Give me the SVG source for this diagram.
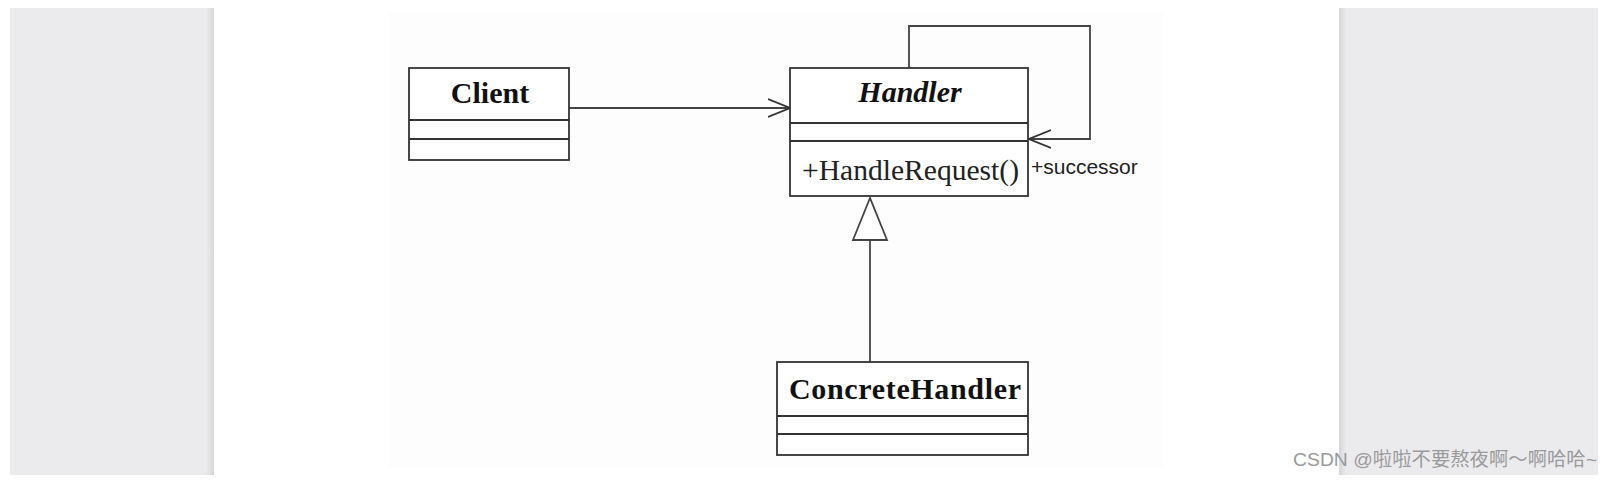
<svg xmlns="http://www.w3.org/2000/svg" width="1611" height="480" viewBox="0 0 1611 480">
  <defs>
    <linearGradient id="shL" x1="0" y1="0" x2="1" y2="0">
      <stop offset="0" stop-color="#ebebed"/>
      <stop offset="1" stop-color="#d6d6d8"/>
    </linearGradient>
    <linearGradient id="shR" x1="0" y1="0" x2="1" y2="0">
      <stop offset="0" stop-color="#d6d6d8"/>
      <stop offset="1" stop-color="#ebebed"/>
    </linearGradient>
    <marker id="open" markerWidth="24" markerHeight="20" refX="22" refY="10" orient="auto" markerUnits="userSpaceOnUse">
      <path d="M0,1 L22,10 L0,19" fill="none" stroke="#333" stroke-width="1.8"/>
    </marker>
  </defs>
  <style>
    .box { fill: #ffffff; stroke: #333; stroke-width: 1.8; }
    .div { stroke: #333; stroke-width: 1.8; }
    .conn { fill: none; stroke: #444; stroke-width: 1.8; }
    .title { font-family: "Liberation Serif", "Times New Roman", serif; font-weight: bold; font-size: 30px; fill: #111; text-anchor: middle; }
    .op { font-family: "Liberation Serif", "Times New Roman", serif; font-size: 29px; fill: #222; }
    .lbl { font-family: "Liberation Sans", Arial, sans-serif; font-size: 21px; fill: #222; }
    .wm { font-family: "Liberation Sans", Arial, "Noto Sans CJK SC", sans-serif; font-size: 19px; fill: #9a9a9a; }
  </style>
  <rect x="0" y="0" width="1611" height="480" fill="#ffffff"/>
  <!-- side panels -->
  <rect x="10" y="8" width="204" height="467" fill="#ebebed"/>
  <rect x="206" y="8" width="8" height="467" fill="url(#shL)"/>
  <rect x="1339" y="8" width="259" height="467" fill="#ebebed"/>
  <rect x="1339" y="8" width="7" height="467" fill="url(#shR)"/>
  <!-- image area -->
  <rect x="389" y="12" width="774" height="455" fill="#fdfdfd"/>

  <g id="connectors">
    <line class="conn" x1="569" y1="108" x2="790" y2="108" marker-end="url(#open)"/>
    <polyline class="conn" points="909,68 909,26 1090,26 1090,139 1029,139" marker-end="url(#open)"/>
    <line class="conn" x1="870" y1="240" x2="870" y2="362"/>
    <polygon points="870,198 853,240 887,240" fill="#ffffff" stroke="#444" stroke-width="1.8"/>
    <text class="lbl" x="1031" y="174">+successor</text>
  </g>

  <g id="client">
    <rect class="box" x="409" y="68" width="160" height="92"/>
    <line class="div" x1="409" y1="120" x2="569" y2="120"/>
    <line class="div" x1="409" y1="139" x2="569" y2="139"/>
    <text class="title" x="490" y="103">Client</text>
  </g>

  <g id="handler">
    <rect class="box" x="790" y="68" width="238" height="128"/>
    <line class="div" x1="790" y1="123" x2="1028" y2="123"/>
    <line class="div" x1="790" y1="141" x2="1028" y2="141"/>
    <text class="title" x="910" y="102" font-style="italic">Handler</text>
    <text class="op" x="802" y="180" textLength="217" lengthAdjust="spacingAndGlyphs">+HandleRequest()</text>
  </g>

  <g id="concretehandler">
    <rect class="box" x="777" y="362" width="251" height="93"/>
    <line class="div" x1="777" y1="416" x2="1028" y2="416"/>
    <line class="div" x1="777" y1="434" x2="1028" y2="434"/>
    <text class="title" x="905" y="399" textLength="232" lengthAdjust="spacing">ConcreteHandler</text>
  </g>

  <text class="wm" x="1293" y="466" textLength="304" lengthAdjust="spacingAndGlyphs">CSDN @啦啦不要熬夜啊～啊哈哈~</text>
</svg>
